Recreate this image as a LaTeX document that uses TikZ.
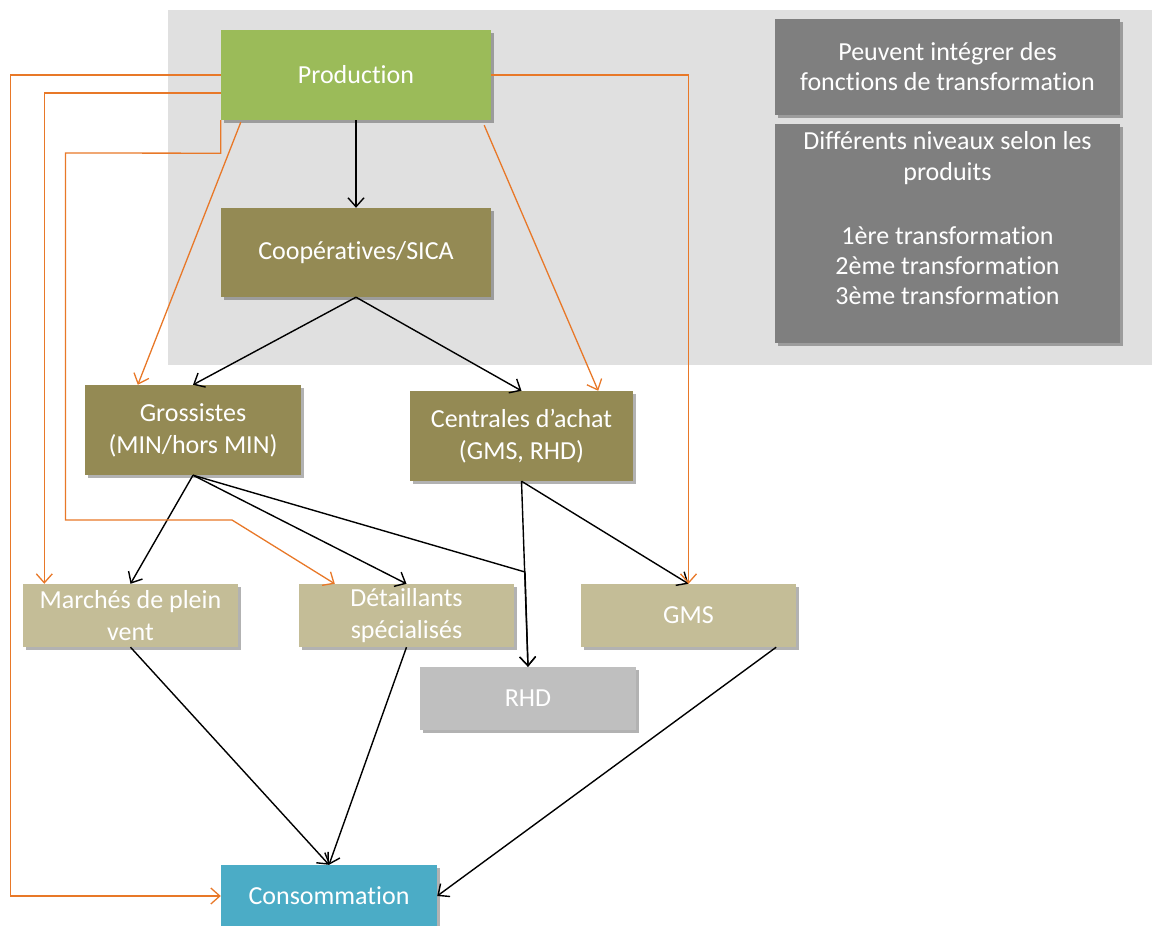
\documentclass[tikz,border=0pt]{standalone}
\usepackage{fontspec}
\setmainfont[Ligatures=NoCommon]{Carlito}
\usetikzlibrary{arrows.meta,shadows,calc}
\definecolor{bgc}{RGB}{224,224,224}
\definecolor{cgreen}{HTML}{9BBB59}
\definecolor{colive}{HTML}{948A54}
\definecolor{ctan}{HTML}{C4BD97}
\definecolor{cgrey}{HTML}{BFBFBF}
\definecolor{cblue}{HTML}{4BACC6}
\definecolor{cdark}{HTML}{7F7F7F}
\definecolor{corange}{RGB}{232,120,40}
\begin{document}
\begin{tikzpicture}[x=1pt,y=-1pt,
  box/.style={draw=none, text=white, align=center, inner sep=0pt,
    font=\fontsize{26}{32}\selectfont,
    drop shadow={shadow xshift=3pt, shadow yshift=-3pt, opacity=0.3, fill=black}},
  blk/.style={draw=black, line width=1.4pt, -{Straight Barb[length=9pt,width=16pt]}},
  org/.style={draw=corange, line width=1.3pt, -{Straight Barb[length=9pt,width=16pt]}}]
\useasboundingbox (0,0) rectangle (1152,926);
\fill[bgc] (168,10) rectangle (1152,365);

\node[box, fill=cgreen, minimum width=270pt, minimum height=90pt] (prod) at (356,75) {Production};
\node[box, fill=colive, minimum width=270pt, minimum height=89pt] (coop) at (356,252.5) {Coopératives/SICA};
\node[box, fill=colive, minimum width=216pt, minimum height=90pt] (gros) at (193,430) {Grossistes\\(MIN/hors MIN)};
\node[box, fill=colive, minimum width=223pt, minimum height=90pt] (cent) at (521.5,436) {Centrales d’achat\\(GMS, RHD)};
\node[box, fill=ctan, minimum width=215pt, minimum height=63pt] (marches) at (130.5,615.5) {Marchés de plein\\vent};
\node[box, fill=ctan, minimum width=215pt, minimum height=63pt] (det) at (406.5,615.5) {Détaillants\\spécialisés};
\node[box, fill=ctan, minimum width=215pt, minimum height=63pt] (gms) at (688.5,615.5) {GMS};
\node[box, fill=cgrey, minimum width=216pt, minimum height=63pt] (rhd) at (528,698.5) {RHD};
\node[box, fill=cblue, minimum width=216pt, minimum height=62pt] (cons) at (329,896) {Consommation};
\node[box, fill=cdark, minimum width=345pt, minimum height=96pt, font=\fontsize{26}{30}\selectfont] (b1) at (947.5,67) {Peuvent intégrer des\\fonctions de transformation};
\node[box, fill=cdark, minimum width=345pt, minimum height=219pt, font=\fontsize{26}{30}\selectfont] (b2) at (947.5,233.5) {Différents niveaux selon les\\[1pt]produits\\[4pt]\strut\\1ère transformation\\2ème transformation\\3ème transformation\\[-7pt]\strut};

% black connectors
\coordinate (j) at (525,572);
\draw[blk] (prod.south) -- (coop.north);
\draw[blk] (coop.south) -- (gros.north);
\draw[blk] (coop.south) -- (cent.north);
\draw[blk] (gros.south) -- (marches.north);
\draw[blk] (gros.south) -- (det.north);
\draw[blk] (gros.south) -- (j) -- (rhd.north);
\draw[blk] (cent.south) -- (rhd.north);
\draw[blk] (cent.south) -- (gms.north);
\draw[blk] (marches.south) -- (cons.north);
\draw[blk] (det.south) -- (cons.north);
\draw[blk] ($(gms.south east)+(-20,0)$) -- (cons.east);

% orange connectors
\draw[org] (prod.west) -- ++(-210.5,0) |- (cons.west);
\draw[org] ($(prod.west)+(0,18)$) -| ($(marches.north west)+(21.5,0)$);
\draw[org] (prod.south west) -- ++(0,33) -- (65.5,153) -- (65.5,520) -- (232,520) -- ($(det.north west)+(36,0)$);
\draw[org] ($(prod.south west)+(20,2)$) -- ($(gros.north west)+(53,0)$);
\draw[org] ($(prod.south east)+(-7,5)$) -- ($(cent.north east)+(-35,0)$);
\draw[org] (prod.east) -| (gms.north);
\end{tikzpicture}
\end{document}
